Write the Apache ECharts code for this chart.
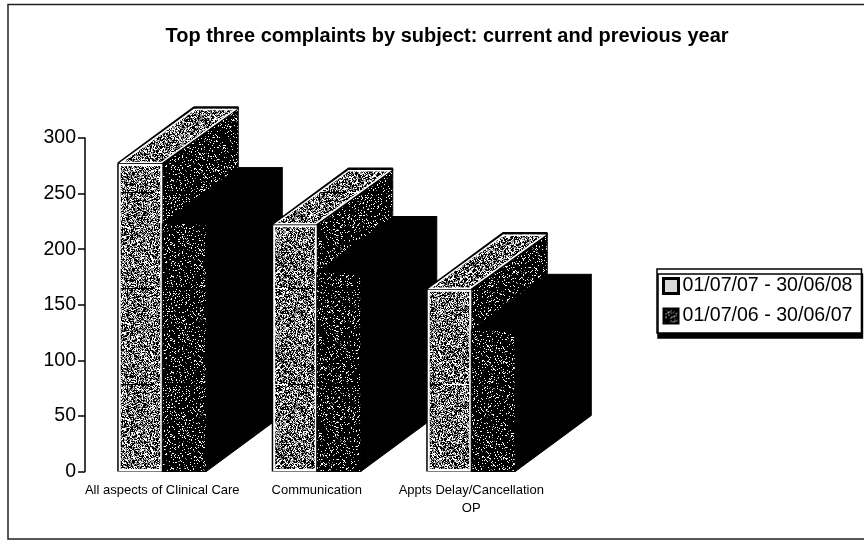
<!DOCTYPE html>
<html>
<head>
<meta charset="utf-8">
<style>
html, body { margin: 0; padding: 0; background: #fff; }
#main { width: 864px; height: 541px; }
</style>
<script src="https://cdn.jsdelivr.net/npm/echarts@6/dist/echarts.min.js"></script>
</head>
<body>
<div id="main"></div>
<script>
var categories = ['All aspects of Clinical Care', 'Communication', 'Appts Delay/Cancellation\nOP']
var current = [277, 222, 164]
var previous = [223, 179, 127]
var yTicks = [0, 50, 100, 150, 200, 250, 300]
var seriesNames = ['01/07/07 - 30/06/08', '01/07/06 - 30/06/07']

var FONT = '"Liberation Sans", Arial, sans-serif'
var DEPTH_X = 76
var DEPTH_Y = 56
var BAR_RATIO = 0.285

// speckle tile, fixed hash so every run looks the same
function tile (black, white, streak) {
	var size = 96
	var cv = document.createElement('canvas')
	cv.width = size
	cv.height = size
	var ctx = cv.getContext('2d')
	for (var y = 0; y < size; y++) {
		for (var x = 0; x < size; x++) {
			var h = ((x * 73856093) ^ (y * 19349663) ^ (x * y * 83492791)) >>> 0
			var n = ((h >>> 7) % 1000) / 1000
			ctx.fillStyle = n < black ? '#000' : n < black + white ? '#fff' : '#8a8a8a'
			ctx.fillRect(x, y, n < black + white && n >= black ? streak : 1, 1)
		}
	}
	return { image: cv, repeat: 'repeat' }
}
var grainFront = tile(0.44, 0.28, 2)
var grainDark = tile(0.87, 0.10, 1)

function renderBar (isFront) {
	return function (params, api) {
		var i = api.value(0)
		var top = api.coord([i, api.value(1)])
		var base = api.coord([i, 0])
		var w = api.size([1, 0])[0] * BAR_RATIO
		var x0 = isFront ? top[0] - w : top[0]
		var x1 = x0 + w
		var y0 = top[1]
		var y1 = base[1]
		// the later series sits over the side face of the earlier one
		var z = i * 20 + (isFront ? 0 : 10)
		var faceFill = isFront ? grainFront : grainDark
		var capFill = isFront ? grainFront : '#000'
		var sideFill = isFront ? grainDark : '#000'
		var cap = [[x0, y0], [x1, y0], [x1 + DEPTH_X, y0 - DEPTH_Y], [x0 + DEPTH_X, y0 - DEPTH_Y]]
		var side = [[x1, y0], [x1 + DEPTH_X, y0 - DEPTH_Y], [x1 + DEPTH_X, y1 - DEPTH_Y], [x1, y1]]
		var children = [
			{ type: 'polygon', z2: z, shape: { points: side }, style: { fill: sideFill, stroke: '#000', lineWidth: 1, lineJoin: 'bevel' } },
			{ type: 'polygon', z2: z + 1, shape: { points: cap }, style: { fill: capFill, stroke: '#000', lineWidth: isFront ? 2.5 : 1, lineJoin: 'bevel' } }
		]
		if (isFront) {
			children.push({ type: 'polygon', z2: z + 2, shape: { points: [[x0 + 3, y0 - 1], [x1 - 1, y0 - 1], [x1 + DEPTH_X - 3, y0 - DEPTH_Y + 2], [x0 + DEPTH_X, y0 - DEPTH_Y + 2]] }, style: { fill: capFill, stroke: '#fff', lineWidth: 1.5 } })
			children.push({ type: 'rect', z2: z + 3, shape: { x: x0 - 1, y: y0, width: w + 1, height: y1 - y0 }, style: { fill: '#000' } })
			children.push({ type: 'rect', z2: z + 4, shape: { x: x0 + 1.5, y: y0 + 1.5, width: w - 2.5, height: y1 - y0 - 3 }, style: { fill: faceFill, stroke: '#fff', lineWidth: 2 } })
		} else {
			children.push({ type: 'rect', z2: z + 3, shape: { x: x0, y: y0, width: w, height: y1 - y0 }, style: { fill: faceFill, stroke: '#000', lineWidth: 1 } })
		}
		return { type: 'group', children: children }
	}
}

function toRows (values) {
	return values.map(function (v, i) { return [i, v] })
}

var chart = echarts.init(document.getElementById('main'), null, { renderer: 'canvas' })
chart.setOption({
	animation: false,
	backgroundColor: '#fff',
	title: {
		text: 'Top three complaints by subject: current and previous year',
		left: 442,
		top: 21,
		textAlign: 'center',
		textStyle: { fontFamily: FONT, fontSize: 20, fontWeight: 'bold', color: '#000' }
	},
	grid: { left: 85, top: 138, width: 463.5, height: 333.5 },
	legend: {
		left: 657,
		top: 269,
		orient: 'vertical',
		padding: [7, 9, 7, 5],
		itemGap: 10,
		itemWidth: 15,
		itemHeight: 15,
		icon: 'rect',
		backgroundColor: '#fff',
		borderColor: '#000',
		borderWidth: 1.5,
		shadowColor: '#000',
		shadowBlur: 0,
		shadowOffsetX: 1,
		shadowOffsetY: 5,
		selectedMode: false,
		textStyle: { fontFamily: FONT, fontSize: 19.6, color: '#000', padding: [0, 0, 0, -1] },
		data: [
			{ name: seriesNames[0], itemStyle: { color: '#d8d8d8', borderColor: '#000', borderWidth: 3 } },
			{ name: seriesNames[1], itemStyle: { color: grainDark, borderColor: '#000', borderWidth: 2 } }
		]
	},
	xAxis: {
		type: 'category',
		data: categories,
		axisLine: { show: false },
		axisTick: { show: false },
		axisLabel: {
			interval: 0,
			margin: 10,
			fontFamily: FONT,
			fontSize: 13,
			lineHeight: 18,
			color: '#000'
		}
	},
	yAxis: {
		type: 'value',
		min: yTicks[0],
		max: yTicks[yTicks.length - 1],
		interval: yTicks[1] - yTicks[0],
		axisLine: { show: true, lineStyle: { color: '#000', width: 1.5 } },
		axisTick: { show: true, length: 7, lineStyle: { color: '#000', width: 1.5 } },
		splitLine: { show: false },
		axisLabel: { margin: 9, fontFamily: FONT, fontSize: 19.5, color: '#000' }
	},
	graphic: [{
		type: 'polyline',
		silent: true,
		shape: { points: [[864, 4.5], [8, 4.5], [8, 539], [864, 539]] },
		style: { fill: null, stroke: '#222', lineWidth: 1.5 }
	}],
	series: [
		{
			name: seriesNames[0],
			type: 'custom',
			clip: false,
			encode: { x: 0, y: 1 },
			data: toRows(current),
			renderItem: renderBar(true)
		},
		{
			name: seriesNames[1],
			type: 'custom',
			clip: false,
			encode: { x: 0, y: 1 },
			data: toRows(previous),
			renderItem: renderBar(false)
		}
	]
})
window.addEventListener('resize', chart.resize)
</script>
</body>
</html>
